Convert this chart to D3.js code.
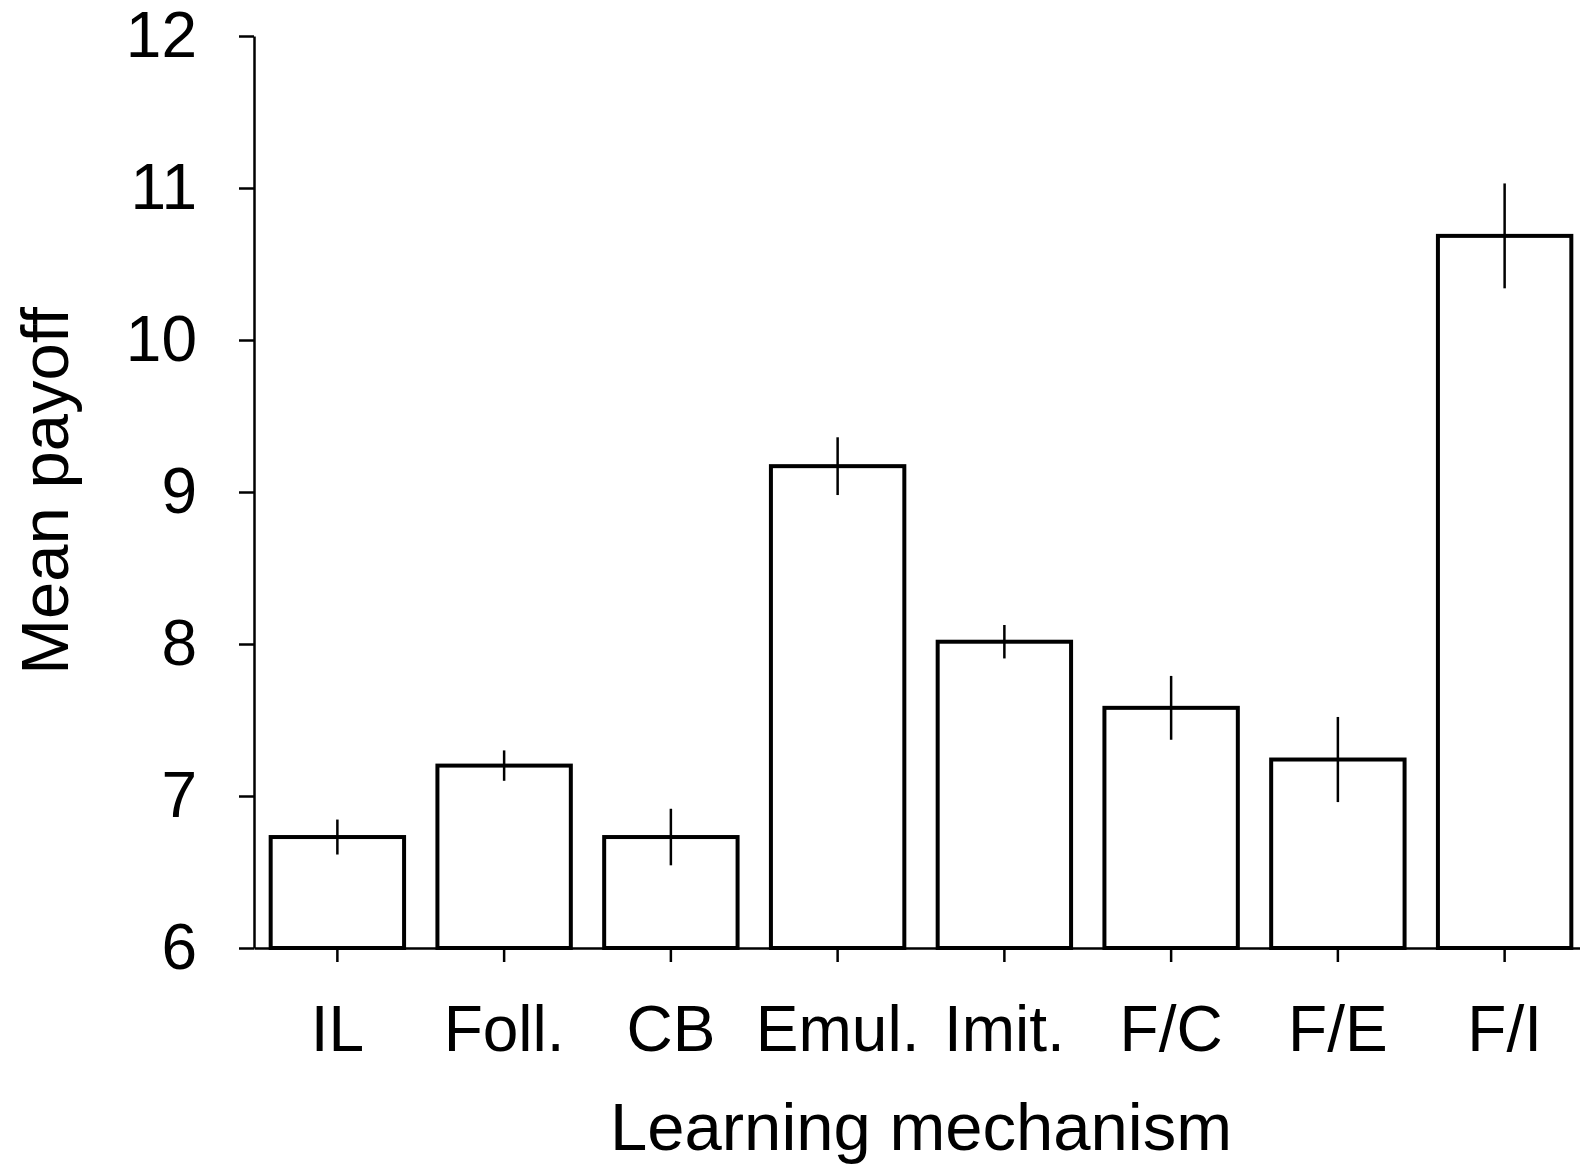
<!DOCTYPE html>
<html>
<head>
<meta charset="utf-8">
<script src="https://cdn.jsdelivr.net/npm/d3@7"></script>
<style>
  body { margin: 0; background: #fff; }
  svg { display: block; }
  text { font-family: "Liberation Sans", Arial, sans-serif; fill: #000; }
</style>
</head>
<body>
<div id="chart"></div>
<script>
var categories = ["IL", "Foll.", "CB", "Emul.", "Imit.", "F/C", "F/E", "F/I"];
var means = [6.73, 7.20, 6.73, 9.17, 8.015, 7.58, 7.24, 10.685];
var errors = [0.115, 0.10, 0.186, 0.19, 0.11, 0.21, 0.28, 0.345];
var yTicks = [6, 7, 8, 9, 10, 11, 12];

var width = 1580,
    height = 1164;

var x = d3.scaleBand()
    .domain(categories)
    .range([254, 1588])
    .paddingInner(0.2)
    .paddingOuter(0.1);

var y = d3.scaleLinear()
    .domain([6, 12])
    .range([948, 36]);

var svg = d3.select("#chart").append("svg")
    .attr("width", width)
    .attr("height", height);

// bars
svg.selectAll(".bar")
    .data(categories)
  .enter().append("rect")
    .attr("class", "bar")
    .attr("x", function(d) { return x(d); })
    .attr("y", function(d, i) { return y(means[i]); })
    .attr("width", x.bandwidth())
    .attr("height", function(d, i) { return y(6) - y(means[i]); })
    .attr("fill", "#fff")
    .attr("stroke", "#000")
    .attr("stroke-width", 4);

// error bars
svg.selectAll(".err")
    .data(categories)
  .enter().append("line")
    .attr("class", "err")
    .attr("x1", function(d) { return x(d) + x.bandwidth() / 2; })
    .attr("x2", function(d) { return x(d) + x.bandwidth() / 2; })
    .attr("y1", function(d, i) { return y(means[i] + errors[i]); })
    .attr("y2", function(d, i) { return y(means[i] - errors[i]); })
    .attr("stroke", "#000")
    .attr("stroke-width", 2.5);

var xAxis = d3.axisBottom(x).tickSize(14).tickSizeOuter(0).tickPadding(44);
var yAxis = d3.axisLeft(y).tickValues(yTicks).tickFormat(d3.format("d"))
    .tickSize(15).tickSizeOuter(0).tickPadding(42);

var gx = svg.append("g")
    .attr("transform", "translate(0," + y(6) + ")")
    .call(xAxis);

var gy = svg.append("g")
    .attr("transform", "translate(254,0)")
    .call(yAxis);

[gx, gy].forEach(function(g) {
  g.selectAll("path, line").attr("stroke", "#000").attr("stroke-width", 2.5);
  g.selectAll("text")
      .attr("font-family", "Liberation Sans, Arial, sans-serif")
      .attr("font-size", 64)
      .attr("fill", "#000");
});

gx.selectAll("text").attr("dy", "0.71em");

svg.append("text")
    .attr("x", 921)
    .attr("y", 1150)
    .attr("text-anchor", "middle")
    .attr("font-size", 67)
    .text("Learning mechanism");

svg.append("text")
    .attr("transform", "translate(68,491) rotate(-90)")
    .attr("text-anchor", "middle")
    .attr("font-size", 67)
    .text("Mean payoff");
</script>
</body>
</html>
